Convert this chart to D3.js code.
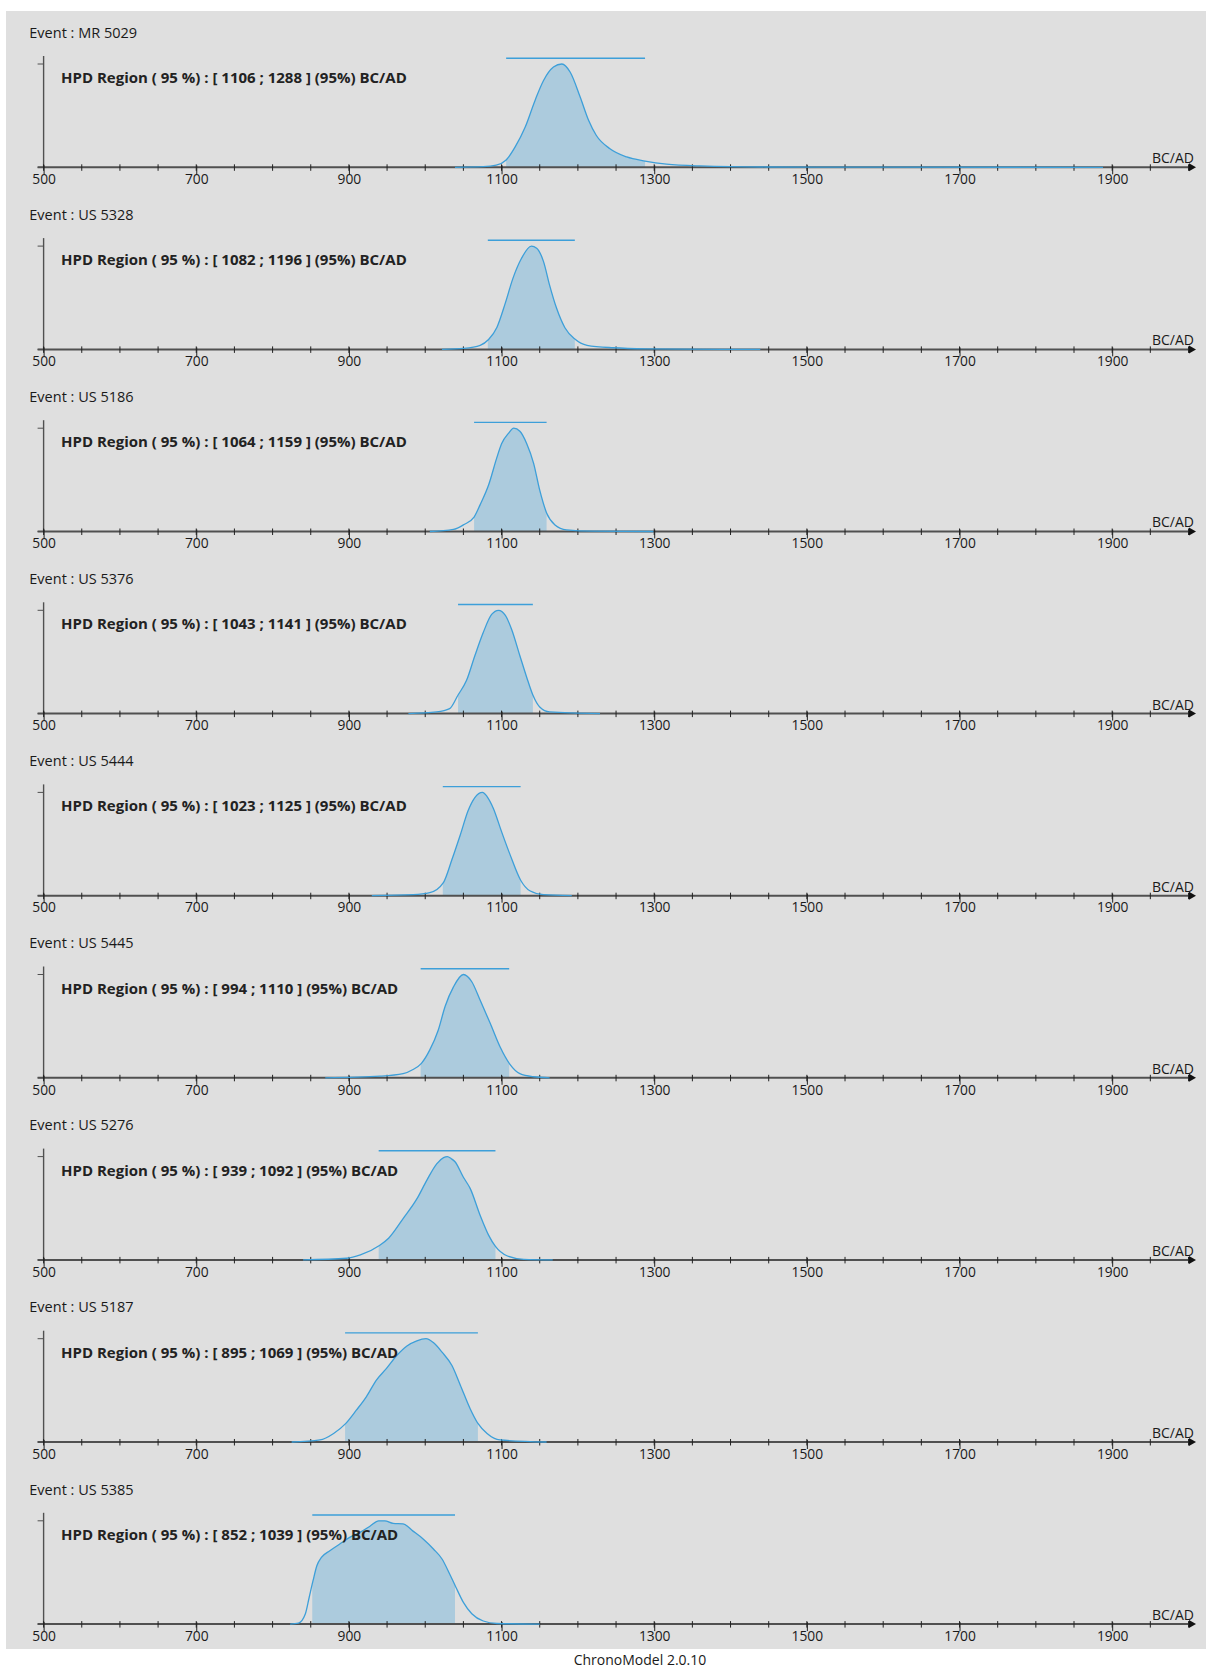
<!doctype html>
<html>
<head>
<meta charset="utf-8">
<script src="https://d3js.org/d3.v7.min.js"></script>
<style>
  body { margin: 0; background: #fff; }
  text { font-family: "Open Sans", sans-serif; }
</style>
</head>
<body>
<div id="chart"></div>
<script>

// events, HPD bounds and the posterior densities (year, relative density)
var eventNames = ["MR 5029", "US 5328", "US 5186", "US 5376", "US 5444", "US 5445", "US 5276", "US 5187", "US 5385"];
var hpdLow  = [1106, 1082, 1064, 1043, 1023, 994, 939, 895, 852];
var hpdHigh = [1288, 1196, 1159, 1141, 1125, 1110, 1092, 1069, 1039];

var mr5029 = [[1039,0],[1076,0.006],[1093,0.02],[1106,0.07],[1118,0.2],[1131,0.39],[1144,0.65],[1155,0.84],[1168,0.97],[1179,1.0],[1190,0.92],[1203,0.68],[1214,0.455],[1224,0.31],[1242,0.18],[1264,0.1],[1288,0.06],[1316,0.03],[1360,0.013],[1447,0.003],[1600,0.001],[1888,0]];
var us5328 = [[1022,0],[1050,0.01],[1072,0.04],[1083,0.096],[1094,0.215],[1105,0.45],[1115,0.69],[1126,0.88],[1139,1.0],[1146,0.98],[1155,0.85],[1163,0.62],[1172,0.4],[1183,0.21],[1196,0.1],[1212,0.04],[1246,0.016],[1290,0.006],[1439,0]];
var us5186 = [[1006,0],[1037,0.02],[1050,0.064],[1064,0.14],[1072,0.26],[1083,0.45],[1094,0.72],[1100,0.85],[1109,0.95],[1116,1.0],[1124,0.97],[1133,0.85],[1142,0.66],[1150,0.4],[1159,0.18],[1170,0.064],[1185,0.016],[1220,0.003],[1299,0]];
var us5376 = [[978,0],[1015,0.016],[1032,0.048],[1043,0.18],[1054,0.32],[1065,0.56],[1076,0.785],[1087,0.96],[1096,1.0],[1105,0.95],[1113,0.82],[1124,0.56],[1133,0.35],[1141,0.18],[1150,0.064],[1163,0.016],[1229,0]];
var us5444 = [[930,0],[984,0.01],[1006,0.03],[1024,0.13],[1035,0.35],[1046,0.59],[1056,0.82],[1065,0.95],[1075,1.0],[1081,0.96],[1089,0.85],[1100,0.62],[1111,0.4],[1125,0.15],[1137,0.048],[1155,0.01],[1192,0]];
var us5445 = [[869,0],[941,0.016],[971,0.04],[984,0.08],[995,0.14],[1006,0.27],[1017,0.46],[1026,0.69],[1037,0.88],[1050,1.0],[1061,0.93],[1072,0.75],[1085,0.53],[1098,0.3],[1111,0.13],[1124,0.04],[1142,0.01],[1163,0]];
var us5276 = [[840,0],[897,0.016],[915,0.048],[940,0.14],[952,0.21],[971,0.4],[989,0.59],[1002,0.77],[1015,0.93],[1024,0.99],[1029,1.0],[1034,0.98],[1039,0.95],[1050,0.8],[1059,0.69],[1072,0.43],[1083,0.24],[1092,0.13],[1107,0.04],[1129,0.006],[1167,0]];
var us5187 = [[825,0],[862,0.02],[880,0.083],[896,0.18],[910,0.31],[923,0.44],[936,0.6],[949,0.71],[963,0.84],[976,0.93],[989,0.98],[1001,1.0],[1011,0.96],[1022,0.87],[1035,0.74],[1046,0.55],[1059,0.32],[1069,0.18],[1081,0.083],[1098,0.02],[1159,0]];
var us5385 = [[823,0],[834,0.01],[843,0.1],[848,0.26],[853,0.42],[858,0.565],[864,0.645],[875,0.71],[888,0.775],[901,0.84],[915,0.89],[928,0.95],[939,1.0],[947,1.0],[958,0.975],[971,0.97],[984,0.9],[998,0.82],[1011,0.725],[1022,0.63],[1032,0.485],[1040,0.36],[1050,0.21],[1061,0.1],[1076,0.03],[1094,0.006],[1150,0]];

var densities = [mr5029, us5328, us5186, us5376, us5444, us5445, us5276, us5187, us5385];

var labelYears = [500, 700, 900, 1100, 1300, 1500, 1700, 1900];
var minorYears = d3.range(500, 2001, 50);

// layout
var W = 1206, H = 1670;
var step = 182.1;        // vertical distance between panels
var axisY = 167.3;       // x axis position inside a panel
var topY = 64;           // where density = 1 sits
var blue = "#3d9fd9", fillBlue = "#accbdd", axisCol = "#505050";

var svg = d3.select("#chart").append("svg")
    .attr("width", W)
    .attr("height", H);

svg.append("rect")
    .attr("x", 6).attr("y", 11)
    .attr("width", W - 6).attr("height", 1638)
    .attr("fill", "#dfdfdf");

var x = d3.scaleLinear().domain([500, 2000]).range([43.6, 1188.5]);
var y = d3.scaleLinear().domain([0, 1]).range([axisY, topY]);

var line = d3.line()
    .curve(d3.curveMonotoneX)
    .x(function(d) { return x(d[0]); })
    .y(function(d) { return y(d[1]); });

var area = d3.area()
    .curve(d3.curveMonotoneX)
    .x(function(d) { return x(d[0]); })
    .y0(y(0))
    .y1(function(d) { return y(d[1]); });

var defs = svg.append("defs");

eventNames.forEach(function(name, i) {
  var g = svg.append("g").attr("transform", "translate(0," + (i * step) + ")");

  // event title
  g.append("text")
      .attr("x", 29.3).attr("y", 37.8)
      .style("font-size", "14.5px")
      .attr("fill", "#1a1a1a")
      .text("Event : " + name);

  // clip the filled part to the HPD interval
  defs.append("clipPath").attr("id", "hpd" + i)
    .append("rect")
      .attr("x", x(hpdLow[i])).attr("y", 0)
      .attr("width", x(hpdHigh[i]) - x(hpdLow[i]))
      .attr("height", axisY);

  g.append("path")
      .datum(densities[i])
      .attr("clip-path", "url(#hpd" + i + ")")
      .attr("fill", fillBlue)
      .attr("d", area);

  // y axis with ticks at 0 and max
  g.append("line")
      .attr("x1", x(500)).attr("x2", x(500))
      .attr("y1", 56).attr("y2", axisY)
      .attr("stroke", axisCol).attr("stroke-width", 1.4);
  g.selectAll(".ytick").data([0, 1]).enter().append("line")
      .attr("x1", x(500) - 6).attr("x2", x(500))
      .attr("y1", function(d) { return y(d); })
      .attr("y2", function(d) { return y(d); })
      .attr("stroke", axisCol).attr("stroke-width", 1);

  // x axis line and arrow
  g.append("line")
      .attr("x1", x(500) - 6).attr("x2", 1191)
      .attr("y1", axisY).attr("y2", axisY)
      .attr("stroke", axisCol).attr("stroke-width", 2);
  g.append("path")
      .attr("d", "M1189," + (axisY - 4) + "L1196," + axisY + "L1189," + (axisY + 4) + "Z")
      .attr("fill", "#111");

  // minor ticks every 50 years
  g.selectAll(".minor").data(minorYears).enter().append("line")
      .attr("x1", function(d) { return x(d); })
      .attr("x2", function(d) { return x(d); })
      .attr("y1", axisY - 3).attr("y2", axisY + 3.5)
      .attr("stroke", "#222").attr("stroke-width", 1);

  // labelled ticks
  var ax = g.append("g")
      .attr("transform", "translate(0," + axisY + ")")
      .call(d3.axisBottom(x).tickValues(labelYears).tickSize(7).tickPadding(0).tickFormat(d3.format("d")));
  ax.select(".domain").remove();
  ax.selectAll(".tick line").attr("stroke", "#222").attr("y1", -2);
  ax.selectAll(".tick text")
      .style("font-family", "'Open Sans', sans-serif")
      .style("font-size", "13.8px")
      .attr("fill", "#1a1a1a");

  g.append("text")
      .attr("x", 1194).attr("y", axisY - 4)
      .attr("text-anchor", "end")
      .style("font-size", "14px")
      .attr("fill", "#1a1a1a")
      .text("BC/AD");

  // density curve
  g.append("path")
      .datum(densities[i])
      .attr("fill", "none")
      .attr("stroke", blue)
      .attr("stroke-width", 1.3)
      .attr("stroke-linejoin", "round")
      .attr("d", line);

  // HPD bar
  g.append("line")
      .attr("x1", x(hpdLow[i])).attr("x2", x(hpdHigh[i]))
      .attr("y1", 58.2).attr("y2", 58.2)
      .attr("stroke", blue).attr("stroke-width", 1.4);

  g.append("text")
      .attr("x", 61).attr("y", 83)
      .style("font-size", "15px")
      .style("font-weight", "bold")
      .attr("fill", "#222")
      .text("HPD Region ( 95 %) : [ " + hpdLow[i] + " ; " + hpdHigh[i] + " ] (95%) BC/AD");
});

svg.append("text")
    .attr("x", 640).attr("y", 1665)
    .attr("text-anchor", "middle")
    .style("font-size", "14px")
    .attr("fill", "#1a1a1a")
    .text("ChronoModel 2.0.10");

</script>
</body>
</html>
